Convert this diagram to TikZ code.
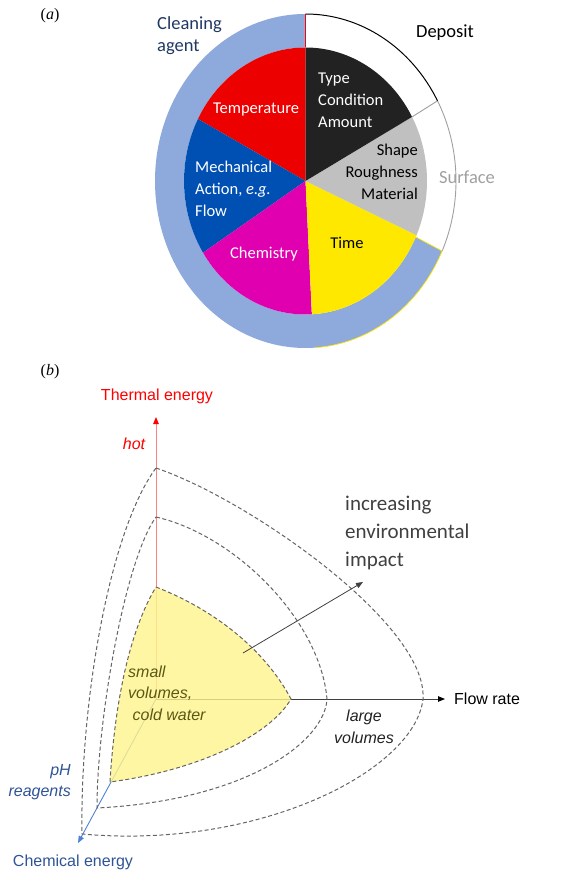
\documentclass[tikz,border=0pt]{standalone}
\usepackage{fontspec}
\setmainfont{Liberation Sans}
\newfontfamily\carlito{Carlito}
\newfontfamily\serifLS{Liberation Serif}
\usetikzlibrary{arrows.meta}
\definecolor{ringblue}{RGB}{142,169,219}
\definecolor{cred}{RGB}{236,0,0}
\definecolor{cblue}{RGB}{0,80,180}
\definecolor{cmag}{RGB}{224,0,176}
\definecolor{cyel}{RGB}{255,232,0}
\definecolor{cgray}{RGB}{192,192,192}
\definecolor{cblack}{RGB}{34,34,34}
\definecolor{navy}{RGB}{31,56,100}
\definecolor{surfgray}{RGB}{160,160,160}
\definecolor{fillyel}{RGB}{255,244,140}
\definecolor{dashgray}{RGB}{100,100,100}
\definecolor{axgray}{RGB}{64,64,64}
\definecolor{axred}{RGB}{255,130,130}
\definecolor{axblue}{RGB}{80,130,210}
\definecolor{labblue}{RGB}{46,84,150}
\definecolor{olivetext}{RGB}{90,88,20}
\definecolor{imptext}{RGB}{64,64,64}
\newcommand\pieSec[3]{\fill[#1] (0,0) -- (#2:121.5pt and 133.5pt) arc[start angle=#2,end angle=#3,x radius=121.5pt,y radius=133.5pt] -- cycle;}
\tikzset{
  pielab/.style={font=\carlito\fontsize{16.5}{22}\selectfont, inner sep=0pt},
  biglab/.style={font=\carlito\fontsize{18.5}{22}\selectfont, inner sep=0pt},
  axlab/.style={font=\fontsize{16}{21}\selectfont, inner sep=0pt},
  itlab/.style={font=\itshape\fontsize{16}{21.5}\selectfont, inner sep=0pt},
  panel/.style={font=\serifLS\fontsize{16}{18}\selectfont, inner sep=0pt},
  dashcurve/.style={draw=dashgray, line width=1pt, dash pattern=on 4pt off 2.5pt},
  axarrow/.style={line width=0.9pt, -{Triangle[length=7pt,width=5.5pt]}}
}
\begin{document}
\begin{tikzpicture}[x=1pt,y=-1pt]
\useasboundingbox (0,0) rectangle (585,874);
% ---------- (a) pie ----------
\node[panel] (pa) at (50,16) {(\textit{a})};
\begin{scope}[shift={(305.5pt,-181pt)}, y=1pt]
  \fill[ringblue] (90:150.5pt and 167pt) arc[start angle=90,end angle=335.2,x radius=150.5pt,y radius=167pt]
     -- (335.2:121.5pt and 133.5pt) arc[start angle=335.2,end angle=90,x radius=121.5pt,y radius=133.5pt] -- cycle;
  \pieSec{cred}{90}{152.3}
  \pieSec{cblue}{152.3}{212.5}
  \pieSec{cmag}{212.5}{273}
  \pieSec{cyel}{273}{336}
  \pieSec{cgray}{-24}{28.7}
  \pieSec{cblack}{28.7}{90}
  \draw[surfgray, line width=0.9pt] (-24.8:150.5pt and 167pt) arc[start angle=-24.8,end angle=28.7,x radius=150.5pt,y radius=167pt];
  \draw[surfgray, line width=0.9pt] (28.7:121.5pt and 133.5pt) -- (28.7:150.5pt and 167pt);
  \draw[black, line width=1pt] (28.7:150.5pt and 167pt) arc[start angle=28.7,end angle=90,x radius=150.5pt,y radius=167pt];
  \draw[red, line width=0.8pt] (90:133.5pt and 133.5pt) -- (90:150.5pt and 167pt);
  \draw[cyel, line width=0.7pt] (-86:150.5pt and 167pt) arc[start angle=-86,end angle=-24.8,x radius=150.5pt,y radius=167pt]
     -- (-24.8:121.5pt and 133.5pt);
\end{scope}
\node[biglab, text=navy, align=left, anchor=west] (clean) at (157,36) {Cleaning\\agent};
\node[biglab, anchor=center] (dep) at (445,33) {Deposit};
\node[biglab, text=surfgray, anchor=center] (surf) at (467,177) {Surface};
\node[pielab, text=white, anchor=center] (temp) at (256,110) {Temperature};
\node[pielab, text=white, align=left, anchor=west] (type) at (318,100) {Type\\Condition\\Amount};
\node[pielab, text=black, align=right, anchor=east] (shape) at (418,172) {Shape\\Roughness\\Material};
\node[pielab, text=white, align=left, anchor=west] (mech) at (195,189) {Mechanical\\Action, \textit{e.g.}\\Flow};
\node[pielab, text=white, anchor=center] (chem) at (264,254) {Chemistry};
\node[pielab, text=black, anchor=center] (time) at (347,243) {Time};
% ---------- (b) ----------
\node[panel] (pb) at (50,372) {(\textit{b})};
\coordinate (O) at (156,699);
\coordinate (Ttip) at (156,417);
\coordinate (Ftip) at (445,699);
\coordinate (Ctip) at (78,843);
\coordinate (I1) at (243,653);
\coordinate (I2) at (363,582);
\draw[axarrow, draw=axred, -{Triangle[length=7pt,width=5.5pt,color=red]}] (O) -- (Ttip);
\draw[axarrow, draw=axgray, -{Triangle[length=7pt,width=5.5pt,color=black]}] (O) -- (Ftip);
\draw[axarrow, draw=axblue] (O) -- (Ctip);
% yellow region
\fill[fillyel, opacity=0.8] (156,587) .. controls (215,610) and (265,650) .. (291,699)
   .. controls (270,735) and (200,770) .. (110,782)
   .. controls (115,700) and (130,630) .. (156,587) -- cycle;
\draw[dashcurve] (156,587) .. controls (215,610) and (265,650) .. (291,699)
   .. controls (270,735) and (200,770) .. (110,782)
   .. controls (115,700) and (130,630) .. (156,587);
% middle contour
\draw[dashcurve] (156,517) .. controls (235,535) and (320,620) .. (327,699)
   .. controls (325,740) and (250,800) .. (97,808)
   .. controls (97,720) and (125,560) .. (156,517);
% outer contour
\draw[dashcurve] (156,468) .. controls (250,500) and (428,625) .. (423,699)
   .. controls (415,770) and (260,850) .. (82,834)
   .. controls (80,700) and (110,530) .. (156,468);
\draw[line width=0.8pt, draw=axgray, -{Triangle[length=7pt,width=5.5pt]}] (I1) -- (I2);
\node[axlab, text=red] (therm) at (157,396) {Thermal energy};
\node[itlab, text=red] (hot) at (134,444) {hot};
\node[axlab, anchor=west] (flow) at (454,699) {Flow rate};
\node[axlab, text=labblue] (cheme) at (73,862) {Chemical energy};
\node[itlab, text=labblue, align=right, anchor=east] (ph) at (71,782) {pH\\reagents};
\node[itlab, text=olivetext, align=left, anchor=west] (small) at (128,693) {small\\volumes,\\\ cold water};
\node[itlab, text=cblack, align=center] (large) at (364,727) {large\\volumes};
\node[font=\carlito\fontsize{21}{28}\selectfont, inner sep=0pt, text=imptext, align=left, anchor=west] (imp) at (345,533) {increasing\\environmental\\impact};
\end{tikzpicture}
\end{document}
